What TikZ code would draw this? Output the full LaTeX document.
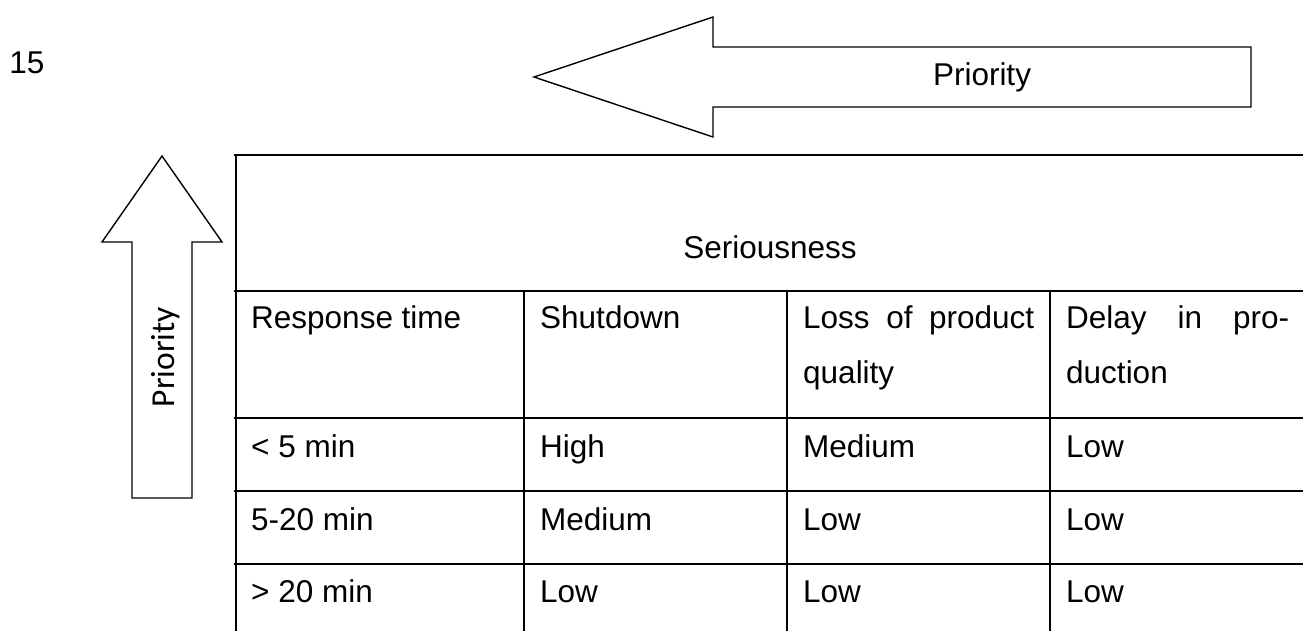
\documentclass[tikz,border=0pt]{standalone}
\usepackage{fontspec}
\setmainfont{Liberation Sans}
\newfontfamily\calfont{Carlito}
\begin{document}
\begin{tikzpicture}[x=1pt,y=-1pt,line join=miter,
  rule/.style={line width=2pt},
  outline/.style={draw,line width=1.4pt},
  txt/.style={inner sep=0pt,font=\fontsize{31.5}{37}\selectfont},
  cell/.style={txt,anchor=base west}]
\useasboundingbox (0,0) rectangle (1303,630);

% page number
\node[txt] (pagenum) at (27,63) {15};

% block arrow pointing left
\draw[outline] (534,77) -- (713,17) -- (713,47) -- (1251,47) -- (1251,107)
  -- (713,107) -- (713,137) -- cycle;
\node[txt] (prioH) at (982,77) {Priority};

% block arrow pointing up
\draw[outline] (162,156) -- (222,242) -- (192,242) -- (192,498) -- (132,498)
  -- (132,242) -- (102,242) -- cycle;
\node[inner sep=0pt,font=\calfont\fontsize{33.5}{40}\selectfont,
  rotate=90,anchor=base] (prioV) at (174,357) {Priority};

% table rules
\foreach \y in {155,291,418,491,564}
  \draw[rule] (234,\y) -- (1306,\y);
\draw[rule] (236,154) -- (236,636);
\foreach \x in {524,787,1050}
  \draw[rule] (\x,291) -- (\x,636);

% table text
\node[txt,anchor=base] (ser) at (770,258) {Seriousness};

\node[cell] (h1) at (251,328) {Response time};
\node[cell] (h2) at (540,328) {Shutdown};
\node[cell] (h3a) at (803,328) {\hbox to 231pt{Loss\hfill of\hfill product}};
\node[cell] (h3b) at (803,383) {quality};
\node[cell] (h4a) at (1066,328) {\hbox to 223pt{Delay\hfill in\hfill pro-}};
\node[cell] (h4b) at (1066,383) {duction};

\node[cell] (r1a) at (251,457) {< 5 min};
\node[cell] (r1b) at (540,457) {High};
\node[cell] (r1c) at (803,457) {Medium};
\node[cell] (r1d) at (1066,457) {Low};

\node[cell] (r2a) at (251,530) {5-20 min};
\node[cell] (r2b) at (540,530) {Medium};
\node[cell] (r2c) at (803,530) {Low};
\node[cell] (r2d) at (1066,530) {Low};

\node[cell] (r3a) at (251,602) {> 20 min};
\node[cell] (r3b) at (540,602) {Low};
\node[cell] (r3c) at (803,602) {Low};
\node[cell] (r3d) at (1066,602) {Low};
\end{tikzpicture}
\end{document}
